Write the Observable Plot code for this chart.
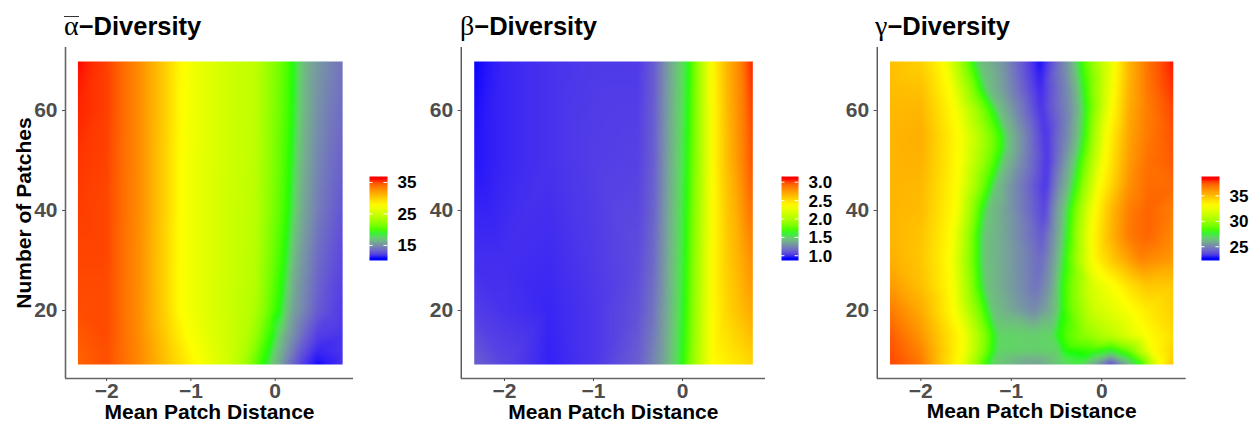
<!DOCTYPE html>
<html>
<head>
<meta charset="utf-8">
<script src="https://cdn.jsdelivr.net/npm/d3@7"></script>
<script src="https://cdn.jsdelivr.net/npm/@observablehq/plot@0.6"></script>
<style>
html,body{margin:0;padding:0;background:#fff;}
#root{position:relative;width:1254px;height:422px;overflow:hidden;font-family:"Liberation Sans",Arial,sans-serif;}
#root svg{position:absolute;overflow:visible;background:transparent;}
.ttl{position:absolute;font:bold 25.5px "Liberation Sans",Arial,sans-serif;color:#000;white-space:nowrap;line-height:32px;}
.ttl .g{font:normal 28px "Liberation Serif",serif;}
.ttl .o{display:inline-block;line-height:17px;border-top:1px solid #333;}
</style>
</head>
<body>
<div id="root"></div>
<script>
// Each row: number of patches, then the [distance, value] pairs read along that row.
const alphaRows = [
 [69.8,[[-2.34,36.9],[-2,36.1],[-1.6,33.3],[-1.3,30.3],[-1.10,28],[-0.85,26.5],[-0.5,25.1],[-0.25,24.5],[-0.1,22.8],[0.12,20.2],[0.22,19.1],[0.27,17.6],[0.37,16],[0.5,15],[0.65,14.2],[0.8,13.5]]],
 [60,[[-2.34,36.6],[-2,36.1],[-1.6,33.3],[-1.3,30.3],[-1.11,28],[-0.85,26.5],[-0.5,25.1],[-0.25,24.5],[-0.1,22.7],[0.11,20.2],[0.21,19.1],[0.26,17.6],[0.36,16],[0.5,14.7],[0.65,13.8],[0.8,13.2]]],
 [50,[[-2.34,36.3],[-2,36],[-1.6,33.3],[-1.3,30.1],[-1.12,28],[-0.85,26.4],[-0.5,25.1],[-0.25,24.4],[-0.1,22.6],[0.09,20.2],[0.19,19.1],[0.24,17.5],[0.34,15.9],[0.5,14.3],[0.65,13.4],[0.8,12.8]]],
 [40,[[-2.34,36.1],[-2,35.9],[-1.6,33.3],[-1.3,30.1],[-1.12,28],[-0.85,26.4],[-0.5,25],[-0.25,24.3],[-0.1,22.4],[0.07,20.2],[0.17,19.1],[0.22,17.4],[0.32,15.7],[0.5,13.9],[0.65,13],[0.8,12.3]]],
 [30,[[-2.34,35.9],[-2,35.9],[-1.6,33.2],[-1.3,30],[-1.13,28],[-0.85,26.4],[-0.5,25],[-0.25,24.1],[-0.12,22.3],[0.02,20.2],[0.12,19.1],[0.17,17.3],[0.27,15.5],[0.5,13.2],[0.65,12.4],[0.8,11.8]]],
 [25,[[-2.34,35.8],[-2,35.8],[-1.6,33.2],[-1.3,30],[-1.13,28],[-0.85,26.4],[-0.5,24.9],[-0.25,24],[-0.14,22.3],[-0.01,20.2],[0.09,19.1],[0.14,17.3],[0.24,15.4],[0.5,12.9],[0.65,12.1],[0.8,11.6]]],
 [20,[[-2.34,35.7],[-2,35.8],[-1.6,33.2],[-1.3,30.1],[-1.12,28],[-0.85,26.4],[-0.5,24.9],[-0.28,23.9],[-0.16,22.3],[-0.04,20.2],[0.06,19.1],[0.11,17.3],[0.21,15.4],[0.5,12.6],[0.65,11.9],[0.8,11.4]]],
 [15,[[-2.34,35.3],[-2,35.8],[-1.6,33.3],[-1.3,30.5],[-1.05,28],[-0.8,26.4],[-0.5,24.9],[-0.35,24],[-0.22,22.3],[-0.12,20.2],[-0.02,19.1],[0.03,17.4],[0.13,15.6],[0.35,12.9],[0.5,11.5],[0.8,11.2]]],
 [12,[[-2.34,35.1],[-2,35.7],[-1.6,33.4],[-1.3,30.8],[-0.98,28],[-0.75,26.4],[-0.5,24.9],[-0.38,23.9],[-0.27,22.3],[-0.17,20.2],[-0.07,19.1],[-0.02,17.4],[0.08,15.7],[0.3,12.5],[0.5,10.8],[0.8,11.2]]],
 [9.2,[[-2.34,35],[-2,35.7],[-1.6,33.5],[-1.3,31],[-0.925,28],[-0.7,26.4],[-0.5,24.9],[-0.42,23.8],[-0.32,22.3],[-0.22,20.2],[-0.12,19.1],[-0.07,17.5],[0.03,15.9],[0.2,13],[0.35,11.2],[0.5,10.2],[0.65,10.6],[0.8,11.2]]]
];
const betaRows = [
 [69.8,[[-2.34,0.87],[-2,0.92],[-1.5,0.95],[-1,0.97],[-0.5,0.97],[-0.32,1.07],[-0.135,1.33],[-0.02,1.48],[0.07,1.63],[0.2,2.0],[0.33,2.39],[0.5,2.7],[0.65,2.89],[0.79,3.155]]],
 [50,[[-2.34,0.89],[-2,0.92],[-1.5,0.95],[-1,0.98],[-0.5,0.99],[-0.32,1.08],[-0.15,1.33],[-0.04,1.48],[0.05,1.63],[0.2,2.0],[0.33,2.39],[0.5,2.66],[0.65,2.85],[0.79,3.05]]],
 [30,[[-2.34,0.94],[-2,0.94],[-1.5,0.93],[-1,0.97],[-0.5,1.02],[-0.32,1.12],[-0.17,1.33],[-0.06,1.48],[0.03,1.63],[0.2,2.05],[0.33,2.39],[0.5,2.6],[0.65,2.72],[0.79,2.85]]],
 [20,[[-2.34,0.98],[-2,0.95],[-1.5,0.92],[-1,0.96],[-0.5,1.04],[-0.34,1.14],[-0.18,1.33],[-0.07,1.48],[0.02,1.63],[0.2,2.07],[0.33,2.39],[0.5,2.56],[0.65,2.66],[0.79,2.75]]],
 [9.2,[[-2.34,1.08],[-2,1.0],[-1.5,0.91],[-1,0.96],[-0.5,1.08],[-0.36,1.18],[-0.2,1.33],[-0.09,1.48],[0,1.63],[0.2,2.1],[0.33,2.39],[0.5,2.45],[0.65,2.5],[0.79,2.56]]]
];
const gammaRows = [
 [69.8,[[-2.34,35.2],[-2,34.7],[-1.75,33.3],[-1.42,27.8],[-1.37,26.4],[-1.1,25.2],[-0.68,22.3],[-0.4,25],[-0.29,26.4],[-0.24,27.8],[0.15,33.3],[0.3,35.5],[0.5,37.2],[0.79,38.8]]],
 [64,[[-2.34,35.3],[-2,35.2],[-1.68,33.3],[-1.32,27.8],[-1.27,26.4],[-1.05,25.1],[-0.68,22.7],[-0.37,25],[-0.25,26.4],[-0.2,27.8],[0.13,33.3],[0.3,35.6],[0.5,37.1],[0.79,38.5]]],
 [60,[[-2.34,35.4],[-2,35.5],[-1.63,33.3],[-1.20,27.8],[-1.15,26.4],[-0.96,25],[-0.67,22.9],[-0.35,25],[-0.23,26.4],[-0.18,27.8],[0.11,33.3],[0.3,35.8],[0.5,37],[0.79,38.2]]],
 [55,[[-2.34,35.5],[-2,35.7],[-1.58,33.3],[-1.10,27.8],[-1.05,26.4],[-0.88,25],[-0.62,22.9],[-0.37,25],[-0.25,26.4],[-0.2,27.8],[0.06,33.3],[0.3,36],[0.5,37.1],[0.79,38]]],
 [52.5,[[-2.34,35.5],[-2,35.65],[-1.58,33.3],[-1.10,27.8],[-1.05,26.4],[-0.88,25],[-0.61,22.9],[-0.39,25],[-0.27,26.4],[-0.22,27.8],[0.045,33.3],[0.3,36.1],[0.5,37.2],[0.79,37.9]]],
 [50,[[-2.34,35.5],[-2,35.6],[-1.58,33.3],[-1.14,27.8],[-1.09,26.4],[-0.9,25],[-0.6,22.9],[-0.42,25],[-0.3,26.4],[-0.25,27.8],[0.03,33.3],[0.3,36.2],[0.5,37.3],[0.79,37.8]]],
 [45,[[-2.34,35.5],[-2,35.4],[-1.6,33.3],[-1.23,27.8],[-1.18,26.4],[-0.98,25],[-0.62,22.9],[-0.47,25],[-0.35,26.4],[-0.3,27.8],[-0.02,33.3],[0.3,36.5],[0.5,37.4],[0.79,37.5]]],
 [40,[[-2.34,35.5],[-2,35.3],[-1.62,33.3],[-1.32,27.8],[-1.27,26.4],[-1.05,25.4],[-0.63,23.2],[-0.52,25],[-0.41,26.4],[-0.36,27.8],[-0.08,33.3],[0.1,35.3],[0.3,37],[0.5,37.6],[0.79,37]]],
 [35,[[-2.34,35.5],[-2,35.1],[-1.66,33.3],[-1.36,27.8],[-1.31,26.4],[-1.08,25.6],[-0.66,23.7],[-0.54,25],[-0.43,26.4],[-0.38,27.8],[-0.11,33.3],[0.1,35.5],[0.3,37.1],[0.5,37.6],[0.79,36.7]]],
 [30,[[-2.34,35.7],[-2,35],[-1.68,33.3],[-1.36,27.8],[-1.31,26.4],[-1.08,25.6],[-0.68,24.1],[-0.56,25.1],[-0.46,26.4],[-0.41,27.8],[-0.1,33.3],[0.13,35],[0.43,36.8],[0.79,36.2]]],
 [25,[[-2.34,36.3],[-2,35.2],[-1.66,33.3],[-1.34,27.8],[-1.29,26.4],[-1.08,25.6],[-0.72,24.3],[-0.58,25.2],[-0.49,26.4],[-0.44,27.8],[-0.1,32],[0.14,33.3],[0.3,34.2],[0.5,35],[0.79,34.9]]],
 [20,[[-2.34,37.1],[-2,35.8],[-1.64,33.3],[-1.27,27.8],[-1.22,26.4],[-1.05,25.8],[-0.75,24.9],[-0.58,25.7],[-0.49,26.4],[-0.44,27.8],[-0.1,31.4],[0.34,33.3],[0.5,33.9],[0.79,34.7]]],
 [15,[[-2.34,37.8],[-2,36.4],[-1.55,33.3],[-1.19,27.8],[-1.14,26.8],[-0.75,26.6],[-0.54,26.8],[-0.49,27.8],[-0.2,29.6],[0.1,31],[0.5,33.3],[0.79,34.3]]],
 [12,[[-2.34,38],[-2,36.8],[-1.55,33.3],[-1.2,27.8],[-1.15,26.8],[-0.75,26.6],[-0.47,26.8],[-0.42,27.8],[-0.1,28.2],[0.1,27.5],[0.3,29],[0.56,33.3],[0.79,34.6]]],
 [9.2,[[-2.34,38.2],[-2,37.2],[-1.58,33.3],[-1.27,27.8],[-1.2,26.6],[-0.75,25.4],[-0.45,26.6],[-0.25,27.2],[-0.1,25.6],[0.1,23.2],[0.28,25.6],[0.43,27.8],[0.65,33.3],[0.79,35.2]]]
];
const xTicks = [-2,-1,0];
const yTicks = [20,40,60];
const palette = ["blue","lime","yellow","red"];
const panels = [
  {title:'<span class="g o">α</span>−Diversity', left:0, axL:65, axR:353, x0:274.7, ux:84.3, rows:alphaRows,
   r:[-2.34,0.80], domain:[10.2,19.1,28.0,36.9], legL:369, legW:18, legT:[15,25,35], fmt:d=>d, yTitle:true, leftStroke:"#666", leftW:1.6, titleX:64},
  {title:'<span class="g">β</span>−Diversity', left:420, axL:460.7, axR:765, x0:682, ux:89, rows:betaRows,
   r:[-2.34,0.79], domain:[0.87,1.63,2.39,3.155], legL:781, legW:17, legT:[1,1.5,2,2.5,3], fmt:d=>d.toFixed(1), yTitle:false, leftStroke:"#222", leftW:1.1, titleX:460},
  {title:'<span class="g">γ</span>−Diversity', left:840, axL:876.7, axR:1185.7, x0:1101.3, ux:90.5, rows:gammaRows,
   r:[-2.34,0.79], domain:[22.3,27.8,33.3,38.8], legL:1201, legW:18, legT:[25,30,35], fmt:d=>d, yTitle:false, leftStroke:"#222", leftW:1.1, titleX:875}
];
const root = document.getElementById("root");
const minus = d => d < 0 ? "\u2212" + Math.abs(d) : String(d);
for (const p of panels) {
  const W = p.axR - p.left + 30;
  const xd = [(p.axL - p.x0) / p.ux, (p.axR - p.x0) / p.ux];
  const yd = [6.4, 72.6];
  const table = p.rows.flatMap(([y, pairs]) => pairs.map(([x, v]) => ({x, y, v})));
  const marks = [
    Plot.raster(table, {x:"x", y:"y", fill:"v", x1:p.r[0], x2:p.r[1], y1:9.2, y2:69.8, interpolate:"barycentric", pixelSize:1, blur:1.5}),
    Plot.ruleX([xd[0]], {stroke:p.leftStroke, strokeWidth:p.leftW}),
    Plot.ruleY([yd[0]], {stroke:"#666", strokeWidth:1.6}),
    Plot.axisX({ticks:xTicks, tickFormat:minus, tickSize:3, tickPadding:2, fontSize:21, fontWeight:"bold", color:"#4d4d4d", stroke:"#4d4d4d", label:null}),
    Plot.axisY({ticks:yTicks, tickSize:3, tickPadding:5, fontSize:21, fontWeight:"bold", color:"#4d4d4d", stroke:"#4d4d4d", label:null}),
    Plot.text(["Mean Patch Distance"], {frameAnchor:"bottom", dy:40, fontSize:21, fontWeight:"bold", fill:"#000"})
  ];
  if (p.yTitle) marks.push(Plot.text(["Number of Patches"], {frameAnchor:"left", dx:-41, rotate:-90, textAnchor:"middle", fontSize:21, fontWeight:"bold", fill:"#000"}));
  const svg = Plot.plot({
    width:W, height:422, marginLeft:p.axL-p.left, marginRight:W-(p.axR-p.left), marginTop:47, marginBottom:44,
    style:{background:"transparent", fontFamily:'"Liberation Sans",Arial,sans-serif', overflow:"visible"},
    x:{domain:xd}, y:{domain:yd},
    color:{type:"linear", domain:p.domain, range:palette, interpolate:"lab", clamp:true},
    marks
  });
  svg.style.left = p.left + "px"; svg.style.top = "0px";
  root.appendChild(svg);

  const [lo,,,hi] = p.domain;
  const bins = d3.range(20).map(i => hi - i * (hi - lo) / 19);
  const leg = Plot.plot({
    width:p.legW+40, height:104, marginLeft:0, marginRight:40, marginTop:10, marginBottom:10,
    style:{background:"transparent", fontFamily:'"Liberation Sans",Arial,sans-serif', overflow:"visible"},
    x:{domain:[0,1], axis:null}, y:{domain:[lo,hi], axis:null},
    color:{type:"linear", domain:p.domain, range:palette, interpolate:"lab", clamp:true},
    marks:[
      Plot.raster(bins, {width:1, height:20, x1:0, x2:1, y1:hi, y2:lo}),
      Plot.ruleY(p.legT, {x1:0, x2:0.2, stroke:"#fff", strokeWidth:1}),
      Plot.ruleY(p.legT, {x1:0.8, x2:1, stroke:"#fff", strokeWidth:1}),
      Plot.axisY({anchor:"right", ticks:p.legT, tickFormat:p.fmt, tickSize:0, tickPadding:10, fontSize:17, fontWeight:"bold", color:"#000", label:null, dy:0.5})
    ]
  });
  leg.style.left = p.legL + "px"; leg.style.top = "166px";
  root.appendChild(leg);

  const t = document.createElement("div");
  t.className = "ttl"; t.innerHTML = p.title;
  t.style.left = p.titleX + "px"; t.style.top = "10px";
  root.appendChild(t);
}
</script>
</body>
</html>
